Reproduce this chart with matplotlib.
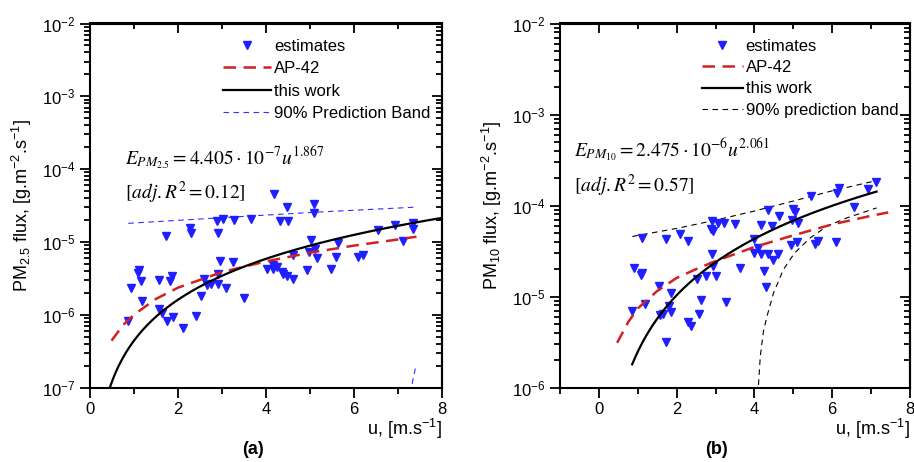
import numpy as np
import matplotlib
matplotlib.use("Agg")
import matplotlib.pyplot as plt
from matplotlib.ticker import MultipleLocator, LogLocator, NullFormatter

plt.rcParams['font.family'] = ['Liberation Sans', 'DejaVu Sans']
plt.rcParams['mathtext.fontset'] = 'custom'
plt.rcParams['mathtext.rm'] = 'Liberation Sans'
plt.rcParams['mathtext.it'] = 'Liberation Sans:italic'
plt.rcParams['mathtext.bf'] = 'Liberation Sans:bold'

BLUE = '#1f1fff'
RED = '#d42020'

# ---- (a) PM2.5 ----
u_pm25 = [0.87, 0.93, 1.08, 1.11, 1.15, 1.19, 1.57, 1.57, 1.63, 1.73, 1.74, 1.82, 1.86,
          1.88, 2.12, 2.27, 2.30, 2.40, 2.52, 2.59, 2.65, 2.75, 2.89, 2.92, 3.02, 2.92,
          2.92, 2.95, 3.09, 3.24, 3.27, 3.50, 3.65, 4.03, 4.15, 4.15, 4.18, 4.24, 4.32,
          4.36, 4.39, 4.47, 4.48, 4.51, 4.61, 4.62, 4.94, 4.98, 5.02, 5.08, 5.08, 5.11,
          5.15, 5.47, 5.58, 5.64, 6.10, 6.21, 6.55, 6.93, 7.12, 7.35, 7.35]
e_pm25 = [8.1e-7, 2.36e-6, 3.72e-6, 4.05e-6, 2.86e-6, 1.56e-6, 3.01e-6, 1.21e-6, 1.05e-6,
          1.21e-5, 8.1e-7, 2.86e-6, 3.42e-6, 9.3e-7, 6.6e-7, 1.57e-5, 1.32e-5, 9.6e-7,
          1.78e-6, 3.11e-6, 2.58e-6, 2.66e-6, 1.92e-5, 1.34e-5, 2.07e-5, 3.61e-6, 2.64e-6,
          5.5e-6, 2.32e-6, 5.37e-6, 1.98e-5, 1.69e-6, 2.08e-5, 4.23e-6, 4.84e-6, 4.23e-6,
          4.55e-5, 4.59e-6, 1.96e-5, 3.92e-6, 3.65e-6, 2.99e-5, 3.35e-6, 1.92e-5, 3.08e-6,
          6.64e-6, 4.05e-6, 7.36e-6, 1.06e-5, 3.32e-5, 2.47e-5, 7.94e-6, 5.98e-6, 4.23e-6,
          6.3e-6, 9.8e-6, 6.3e-6, 6.64e-6, 1.46e-5, 1.71e-5, 1.03e-5, 1.84e-5, 1.49e-5]
fit_pm25 = (4.405e-7, 1.867)
ap42_u_pm25 = [0.49, 0.75, 1.0, 1.5, 2.0, 3.0, 4.0, 5.0, 6.0, 7.0, 7.42]
ap42_pm25 = [4.4e-7, 7.2e-7, 1.0e-6, 1.65e-6, 2.35e-6, 3.85e-6, 5.4e-6, 7.1e-6, 8.9e-6,
             1.08e-5, 1.18e-5]
band_hi_u_pm25 = [0.87, 3.0, 5.08, 7.39]
band_hi_pm25 = [1.8e-5, 2.15e-5, 2.55e-5, 3.0e-5]
band_lo_u_pm25 = [7.28, 7.31, 7.35, 7.41]
band_lo_pm25 = [6e-8, 1.0e-7, 1.4e-7, 2.0e-7]

# ---- (b) PM10 ----
u_pm10 = [0.856, 0.899, 1.07, 1.117, 1.117, 1.185, 1.544, 1.569, 1.656, 1.713, 1.731, 1.797,
          1.864, 1.864, 2.095, 2.282, 2.282, 2.369, 2.523, 2.582, 2.626, 2.762, 2.890, 2.923,
          2.908, 2.908, 2.923, 3.018, 3.054, 3.226, 3.26, 3.495, 3.64, 4.0, 4.0, 4.087,
          4.174, 4.174, 4.241, 4.302, 4.346, 4.346, 4.449, 4.474, 4.603, 4.62, 4.93, 4.956,
          4.997, 5.041, 5.087, 5.128, 5.454, 5.556, 5.626, 6.1, 6.126, 6.185, 6.551, 6.91,
          7.125]
e_pm10 = [7.0e-6, 2.04e-5, 1.72e-5, 1.83e-5, 4.39e-5, 8.3e-6, 1.31e-5, 6.3e-6, 6.4e-6, 4.3e-5,
          3.13e-6, 7.96e-6, 1.10e-5, 6.8e-6, 4.9e-5, 4.1e-5, 5.2e-6, 4.7e-6, 1.55e-5, 6.5e-6,
          9.2e-6, 1.66e-5, 5.55e-5, 5.2e-5, 6.8e-5, 2.92e-5, 2.14e-5, 1.66e-5, 6.5e-5, 6.4e-5,
          8.7e-6, 6.3e-5, 2.05e-5, 4.3e-5, 3.0e-5, 3.4e-5, 6.1e-5, 2.92e-5, 1.91e-5, 1.27e-5,
          9.0e-5, 2.92e-5, 6.0e-5, 2.49e-5, 2.92e-5, 7.6e-5, 3.64e-5, 7.0e-5, 9.1e-5, 8.4e-5,
          4.0e-5, 6.5e-5, 1.26e-4, 3.8e-5, 4.1e-5, 4.0e-5, 1.37e-4, 1.55e-4, 9.6e-5, 1.51e-4,
          1.80e-4]
fit_pm10 = (2.475e-6, 2.061)
ap42_u_pm10 = [0.47, 0.75, 1.0, 1.5, 2.0, 2.5, 3.0, 4.0, 5.0, 6.0, 7.0, 7.44]
ap42_pm10 = [3.1e-6, 5.2e-6, 7.4e-6, 1.15e-5, 1.6e-5, 2.0e-5, 2.45e-5, 3.5e-5, 4.7e-5,
             6.2e-5, 7.7e-5, 8.4e-5]
band_hi_u_pm10 = [0.86, 2.0, 3.0, 4.0, 5.0, 6.0, 7.14]
band_hi_pm10 = [4.57e-5, 5.6e-5, 6.9e-5, 8.7e-5, 1.12e-4, 1.45e-4, 1.88e-4]
band_lo_u_pm10 = [4.08, 4.10, 4.15, 4.23, 4.32, 4.49, 4.74, 5.03, 5.43, 5.86, 6.37, 7.14]
band_lo_pm10 = [5e-7, 1.0e-6, 2.2e-6, 4.1e-6, 6.0e-6, 1.09e-5, 1.96e-5, 3.0e-5, 4.39e-5,
                5.9e-5, 7.3e-5, 9.4e-5]


def style_axis(ax, xlim, ylim):
    ax.set_yscale('log')
    ax.set_xlim(*xlim)
    ax.set_ylim(*ylim)
    ax.xaxis.set_major_locator(MultipleLocator(2))
    ax.xaxis.set_minor_locator(MultipleLocator(1))
    ax.yaxis.set_major_locator(LogLocator(base=10, numticks=10))
    ax.yaxis.set_minor_locator(LogLocator(base=10, subs=np.arange(2, 10), numticks=20))
    ax.yaxis.set_minor_formatter(NullFormatter())
    for s in ax.spines.values():
        s.set_linewidth(1.5)
    ax.tick_params(which='both', direction='out', top=False, right=False, labelsize=12, width=1.3)
    ax.tick_params(which='major', length=7)
    ax.tick_params(which='minor', length=4)
    # inward ticks on top/right
    sec = ax.secondary_xaxis('top')
    sec.xaxis.set_major_locator(MultipleLocator(2))
    sec.xaxis.set_minor_locator(MultipleLocator(1))
    sec.tick_params(which='both', direction='in', labeltop=False, width=1.3)
    sec.tick_params(which='major', length=7)
    sec.tick_params(which='minor', length=4)
    sec.spines['top'].set_linewidth(1.5)
    secy = ax.secondary_yaxis('right')
    secy.set_yscale('log')
    secy.yaxis.set_major_locator(LogLocator(base=10, numticks=10))
    secy.yaxis.set_minor_locator(LogLocator(base=10, subs=np.arange(2, 10), numticks=20))
    secy.tick_params(which='both', direction='in', labelright=False, width=1.3)
    secy.tick_params(which='major', length=7)
    secy.tick_params(which='minor', length=4)
    secy.spines['right'].set_linewidth(1.5)


def draw_panel(ax, u, e, fit, ap_u, ap, hi_u, hi, lo_u, lo, fit_range, band_color,
               band_label, eq, r2, handlelength, spacing):
    ax.plot(u, e, linestyle='none', marker='v', color=BLUE, markersize=6, label='estimates', zorder=3)
    ax.plot(ap_u, ap, color=RED, lw=1.8, dashes=(5, 3), label='AP-42', zorder=4)
    uu = np.linspace(fit_range[0], fit_range[1], 300)
    ax.plot(uu, fit[0] * uu ** fit[1], color='black', lw=1.6, label='this work', zorder=5)
    ax.plot(hi_u, hi, color=band_color, lw=0.8, dashes=(5, 4), label=band_label, zorder=2)
    ax.plot(lo_u, lo, color=band_color, lw=0.8, dashes=(5, 4), zorder=2)
    ax.legend(loc='upper right', bbox_to_anchor=(1.0, 0.99), frameon=False, fontsize=12,
              handlelength=handlelength, handletextpad=0.15, labelspacing=spacing,
              borderaxespad=0.3, numpoints=1)
    ax.text(eq[0], eq[1], eq[2], transform=ax.transAxes, fontsize=14, va='center',
            math_fontfamily='stix')
    ax.text(r2[0], r2[1], r2[2], transform=ax.transAxes, fontsize=14, va='center',
            math_fontfamily='stix')


def main():
    fig = plt.figure(figsize=(9.14, 4.62), dpi=100)
    ax1 = fig.add_axes([90 / 914, 74.5 / 462, 352 / 914, 364 / 462])
    ax2 = fig.add_axes([560 / 914, 74.5 / 462, 350 / 914, 364 / 462])

    style_axis(ax1, (0, 8), (1e-7, 1e-2))
    style_axis(ax2, (-1, 8), (1e-6, 1e-2))

    draw_panel(ax1, u_pm25, e_pm25, fit_pm25, ap42_u_pm25, ap42_pm25,
               band_hi_u_pm25, band_hi_pm25, band_lo_u_pm25, band_lo_pm25,
               (0.3, 8.0), '#3030ff', '90% Prediction Band',
               (0.10, 0.63, r'$E_{PM_{2.5}}=4.405\cdot10^{-7}u^{1.867}$'),
               (0.10, 0.535, r'$[adj.R^{2}=0.12]$'), 2.9, 0.45)
    draw_panel(ax2, u_pm10, e_pm10, fit_pm10, ap42_u_pm10, ap42_pm10,
               band_hi_u_pm10, band_hi_pm10, band_lo_u_pm10, band_lo_pm10,
               (0.856, 7.14), 'black', '90% prediction band',
               (0.04, 0.65, r'$E_{PM_{10}}=2.475\cdot10^{-6}u^{2.061}$'),
               (0.04, 0.555, r'$[adj.R^{2}=0.57]$'), 2.5, 0.38)

    ax1.set_ylabel(r'PM$\mathregular{_{2.5}}$ flux, [g.m$\mathregular{^{-2}}$.s$\mathregular{^{-1}}$]',
                   fontsize=13, labelpad=6)
    ax2.set_ylabel(r'PM$\mathregular{_{10}}$ flux, [g.m$\mathregular{^{-2}}$.s$\mathregular{^{-1}}$]',
                   fontsize=13, labelpad=6)
    for ax in (ax1, ax2):
        ax.set_xlabel(r'u, [m.s$\mathregular{^{-1}}$]', fontsize=13, loc='right', labelpad=0)

    fig.text(253 / 914, 1 - 449 / 462, '(a)', fontsize=13, fontweight='bold', ha='center', va='center')
    fig.text(717 / 914, 1 - 449 / 462, '(b)', fontsize=13, fontweight='bold', ha='center', va='center')

    fig.savefig('out.png', dpi=100)


if __name__ == '__main__':
    main()
